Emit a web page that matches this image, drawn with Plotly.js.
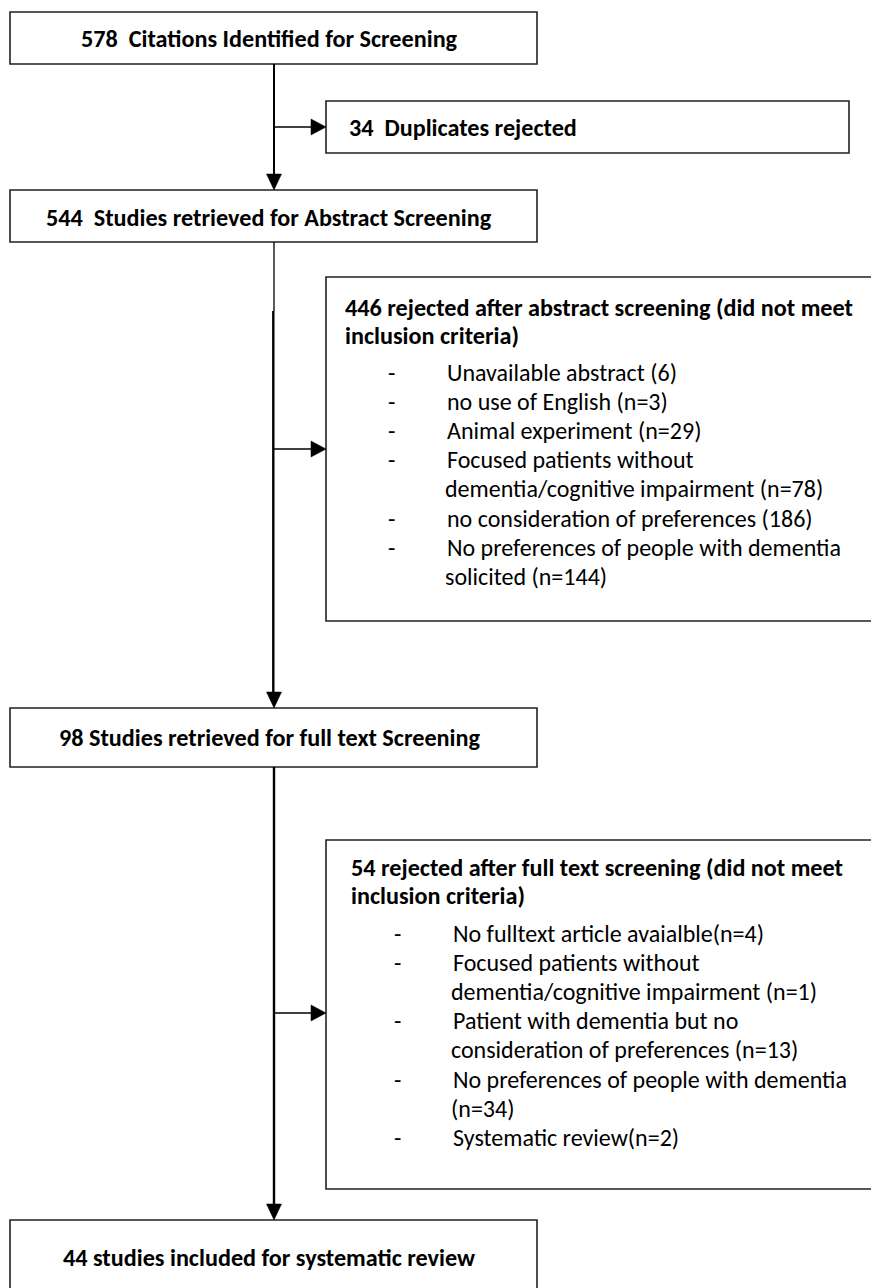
<!DOCTYPE html>
<html>
<head>
<meta charset="utf-8">
<script src="https://cdn.plot.ly/plotly-3.0.1.min.js"></script>
<style>html,body{margin:0;padding:0;background:#fff;}</style>
</head>
<body>
<div id="chart" style="width:871px;height:1288px;"></div>
<script>
// ---- Data ----
const stageCounts = [578, 544, 98, 44];
const stageLabels = [
  "Citations Identified for Screening",
  "Studies retrieved for Abstract Screening",
  "Studies retrieved for full text Screening",
  "studies included for systematic review"
];
const stageSeparators = ["  ", "  ", " ", " "];

const duplicateCount = 34;
const duplicateLabel = "Duplicates rejected";

const abstractExcludedCount = 446;
const abstractHeader = ["rejected after abstract screening (did not meet", "inclusion criteria)"];
const abstractReasons = [
  "Unavailable abstract",
  "no use of English",
  "Animal experiment",
  "Focused patients without|dementia/cognitive impairment",
  "no consideration of preferences",
  "No preferences of people with dementia|solicited"
];
const abstractReasonCounts = [6, 3, 29, 78, 186, 144];
const abstractReasonFormats = [" (#)", " (n=#)", " (n=#)", " (n=#)", " (#)", " (n=#)"];

const fulltextExcludedCount = 54;
const fulltextHeader = ["rejected after full text screening (did not meet", "inclusion criteria)"];
const fulltextReasons = [
  "No fulltext article avaialble",
  "Focused patients without|dementia/cognitive impairment",
  "Patient with dementia but no|consideration of preferences",
  "No preferences of people with dementia",
  "Systematic review"
];
const fulltextReasonCounts = [4, 1, 13, 34, 2];
const fulltextReasonFormats = ["(n=#)", " (n=#)", " (n=#)", "|(n=#)", "(n=#)"];

// ---- Layout / style ----
const FONT = "Carlito, Lato, 'Liberation Sans', sans-serif";
const BOLD_SIZE = 24.2;
const REG_SIZE = 24;
const LINE_COLOR = "#000";
const BOX_COLOR = "#222";

const mainX = 274;
const mainBoxes = [
  {x0: 10, x1: 537, y0: 12, y1: 64, ty: 38},
  {x0: 10, x1: 537, y0: 190, y1: 242, ty: 217},
  {x0: 10, x1: 537, y0: 708, y1: 767, ty: 737},
  {x0: 10, x1: 537, y0: 1220, y1: 1300, ty: 1257}
];
const titleCx = 269;
const sideBoxes = [
  {x0: 326, x1: 849, y0: 101, y1: 153, branchY: 127},
  {x0: 326, x1: 890, y0: 277, y1: 621, branchY: 449},
  {x0: 326, x1: 890, y0: 840, y1: 1189, branchY: 1013}
];

const shapes = [];
const annotations = [];

function rect(b, w) {
  shapes.push({type: "rect", xref: "x", yref: "y", x0: b.x0, x1: b.x1, y0: b.y0, y1: b.y1,
    line: {color: BOX_COLOR, width: w || 1.6}, fillcolor: "rgba(0,0,0,0)"});
}
function line(x0, y0, x1, y1, w) {
  shapes.push({type: "line", xref: "x", yref: "y", x0, y0, x1, y1, line: {color: LINE_COLOR, width: w || 2}});
}
function arrowDown(x, tipY) {
  shapes.push({type: "path", xref: "x", yref: "y",
    path: `M ${x-7.5} ${tipY-16} L ${x+7.5} ${tipY-16} L ${x} ${tipY} Z`,
    fillcolor: LINE_COLOR, line: {color: LINE_COLOR, width: 0.5}});
}
function arrowRight(tipX, y) {
  shapes.push({type: "path", xref: "x", yref: "y",
    path: `M ${tipX-15} ${y-8} L ${tipX-15} ${y+8} L ${tipX} ${y} Z`,
    fillcolor: LINE_COLOR, line: {color: LINE_COLOR, width: 0.5}});
}
function text(t, x, y, anchor, bold, size) {
  annotations.push({text: bold ? "<b>" + t + "</b>" : t, x, y, xref: "x", yref: "y",
    xanchor: anchor, yanchor: "middle", showarrow: false,
    font: {family: FONT, size: size, color: "#000"}});
}

// main boxes
mainBoxes.forEach((b, i) => {
  rect(b);
  text(stageCounts[i] + stageSeparators[i] + stageLabels[i], titleCx, b.ty, "center", true, BOLD_SIZE);
});

// connectors
line(mainX, mainBoxes[0].y1, mainX, mainBoxes[1].y0 - 14, 2);
arrowDown(mainX, mainBoxes[1].y0);
line(mainX, mainBoxes[1].y1, mainX, 311, 1.3);
line(mainX - 0.7, 311, mainX - 0.7, mainBoxes[2].y0 - 14, 2.4);
arrowDown(mainX, mainBoxes[2].y0);
line(mainX, mainBoxes[2].y1, mainX, mainBoxes[3].y0 - 14, 2.4);
arrowDown(mainX, mainBoxes[3].y0);

sideBoxes.forEach(b => {
  rect(b);
  line(mainX, b.branchY, b.x0 - 13, b.branchY, 1.6);
  arrowRight(b.x0, b.branchY);
});

// duplicates text
text(duplicateCount + "  " + duplicateLabel, 347, sideBoxes[0].branchY, "left", true, BOLD_SIZE);

function exclusionBlock(count, header, reasons, counts, formats, headerX, headerY, dashX, textX, firstY, spacing) {
  text(count + " " + header[0], headerX, headerY, "left", true, BOLD_SIZE);
  text(header[1], headerX, headerY + 28, "left", true, BOLD_SIZE);
  let k = 0;
  reasons.forEach((r, i) => {
    const full = r + formats[i].replace("#", counts[i]);
    const parts = full.split("|");
    parts.forEach((p, j) => {
      const y = firstY + k * spacing;
      if (j === 0) text("-", dashX, y, "center", false, REG_SIZE);
      text(p, textX - (j > 0 ? 2 : 0), y, "left", false, REG_SIZE);
      k++;
    });
  });
}

exclusionBlock(abstractExcludedCount, abstractHeader, abstractReasons, abstractReasonCounts, abstractReasonFormats,
  343, 307, 391, 445, 372, 29.2);
exclusionBlock(fulltextExcludedCount, fulltextHeader, fulltextReasons, fulltextReasonCounts, fulltextReasonFormats,
  349, 867, 397, 451, 933, 29.2);

const layout = {
  width: 871, height: 1288,
  margin: {l: 0, r: 0, t: 0, b: 0, pad: 0},
  paper_bgcolor: "#fff", plot_bgcolor: "#fff",
  showlegend: false,
  xaxis: {range: [0, 871], visible: false, fixedrange: true},
  yaxis: {range: [1288, 0], visible: false, fixedrange: true},
  shapes, annotations
};

Plotly.newPlot("chart", [{type: "scatter", x: [], y: [], mode: "markers", hoverinfo: "skip"}], layout, {staticPlot: true, displayModeBar: false});
</script>
</body>
</html>
